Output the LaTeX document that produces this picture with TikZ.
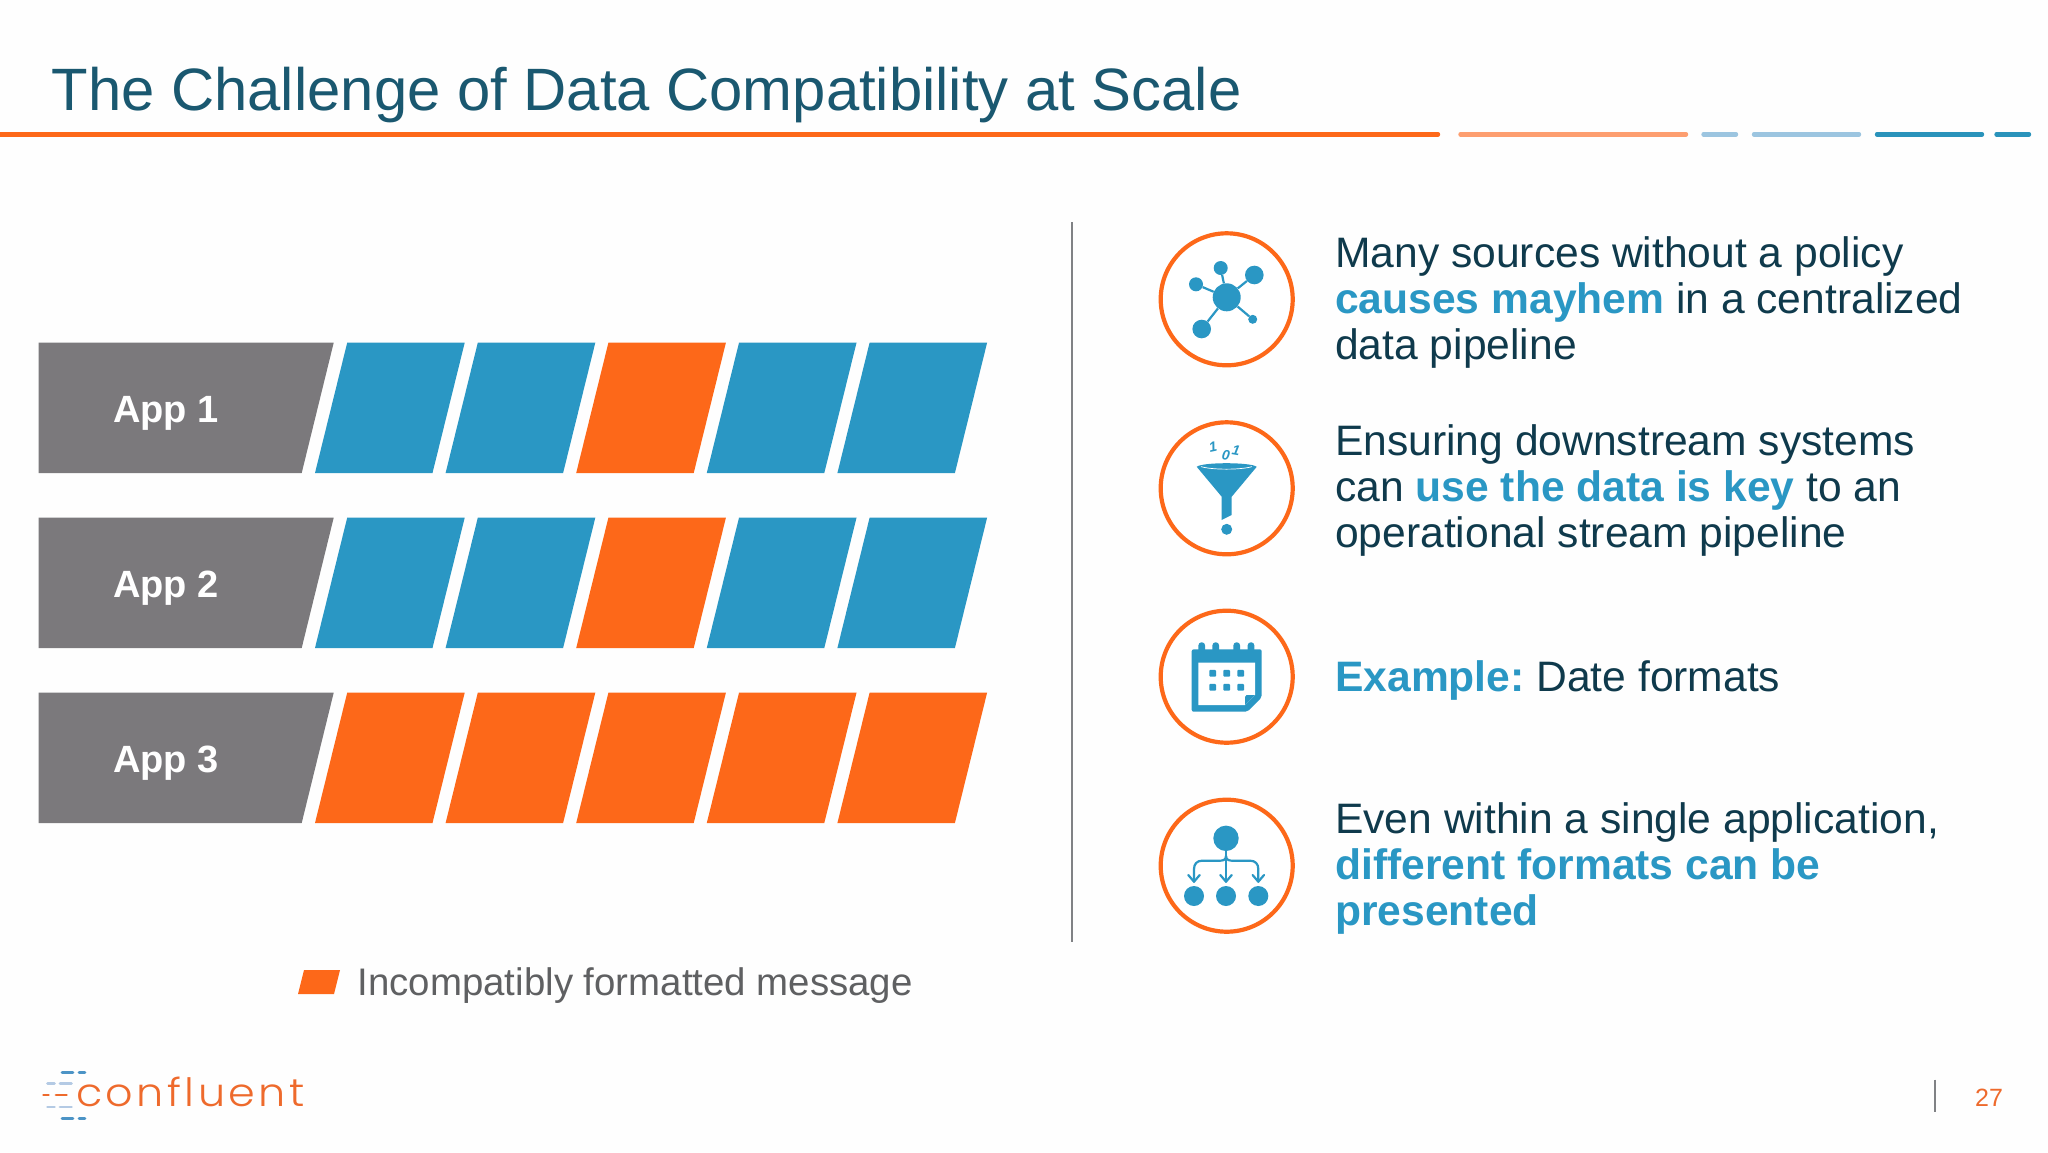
\documentclass[tikz,border=0pt]{standalone}
\usepackage{fontspec}
\setmainfont{Liberation Sans}
\newfontfamily\logofont{Poppins}[UprightFont=* Light,LetterSpace=8]
\definecolor{bgC}{HTML}{FEFEFE}
\definecolor{titleC}{HTML}{1A5870}
\definecolor{bodyC}{HTML}{0F3A4C}
\definecolor{hiC}{HTML}{2A97C4}
\definecolor{iconC}{HTML}{2A97C4}
\definecolor{orangeC}{HTML}{FD6819}
\definecolor{ltOrange}{HTML}{FD9E70}
\definecolor{ltBlue}{HTML}{9CC5E0}
\definecolor{tealC}{HTML}{2A93BB}
\definecolor{grayC}{HTML}{7B797C}
\definecolor{legendC}{HTML}{5F6062}
\definecolor{ruleC}{HTML}{808285}
\definecolor{logoBlue}{HTML}{4C94C6}
\definecolor{logoLight}{HTML}{B4CAE4}
\definecolor{logoOrange}{HTML}{EE6A2C}
\tikzset{
  rulebar/.style={line width=4.4pt,line cap=round},
  iconring/.style={circle,draw=orangeC,line width=4.2pt,minimum size=132pt,inner sep=0pt,fill=white},
  bodytext/.style={anchor=west,inner sep=0pt,align=left,text=bodyC,font=\fontsize{42.6}{46}\selectfont},
  applabel/.style={anchor=base,text=white,inner sep=0pt,font=\bfseries\fontsize{38}{38}\selectfont},
  logodash/.style={line width=2.8pt,line cap=round},
  dot/.style={circle,fill=iconC,inner sep=0pt,minimum size=#1},
  bitlabel/.style={text=iconC,inner sep=0pt,font=\itshape\bfseries\fontsize{14}{14}\selectfont},
  iconline/.style={draw=iconC,line width=2.2pt},
  hierline/.style={draw=iconC,line width=2.2pt,line join=round,line cap=round},
}
\newcommand{\hi}[1]{\textcolor{hiC}{\textbf{#1}}}
\newcommand{\cell}[3]{\fill[#3] (#1+32.2,#2) -- (#1+149.7,#2) -- (#1+117.5,#2+130.3) -- (#1,#2+130.3) -- cycle;}
\begin{document}
\begin{tikzpicture}[x=1pt,y=-1pt]
\useasboundingbox (0,0) rectangle (2048,1152);
\fill[bgC] (0,0) rectangle (2048,1152);
% title
\node[anchor=base west,inner sep=0pt,text=titleC,font=\fontsize{59.8}{60}\selectfont] (title) at (51.5,110) {The Challenge of Data Compatibility at Scale};
\draw[rulebar,orangeC] (0,134.3) -- (1438,134.3);
\draw[rulebar,ltOrange] (1460.5,134.3) -- (1686,134.3);
\draw[rulebar,ltBlue] (1703.5,134.3) -- (1736,134.3);
\draw[rulebar,ltBlue] (1754,134.3) -- (1859,134.3);
\draw[rulebar,tealC] (1877,134.3) -- (1982,134.3);
\draw[rulebar,tealC] (1996.5,134.3) -- (2029,134.3);
% rows
\foreach \row/\yy/\cA/\cB/\cC/\cD/\cE in {1/342.7/hiC/hiC/orangeC/hiC/hiC,2/517.7/hiC/hiC/orangeC/hiC/hiC,3/692.7/orangeC/orangeC/orangeC/orangeC/orangeC}{
  \fill[grayC] (38.7,\yy) -- (333.7,\yy) -- (301.7,\yy+130.3) -- (38.7,\yy+130.3) -- cycle;
  \node[applabel] (app\row) at (166,\yy+80) {App \row};
  \cell{315}{\yy}{\cA}
  \cell{445.6}{\yy}{\cB}
  \cell{576.2}{\yy}{\cC}
  \cell{706.8}{\yy}{\cD}
  \cell{837.4}{\yy}{\cE}
}
% divider
\coordinate (divTop) at (1072.3,222);
\coordinate (divBot) at (1072.3,942);
\draw[ruleC,line width=2pt] (divTop) -- (divBot);
% legend
\fill[orangeC] (304,970) -- (340,970) -- (334,994) -- (298,994) -- cycle;
\node[anchor=west,inner sep=0pt,text=legendC,font=\fontsize{38.4}{40}\selectfont] (legend) at (357.5,986) {Incompatibly formatted message};
% rings
\node[iconring] (ring1) at (1226.7,299.3) {};
\node[iconring] (ring2) at (1226.7,488.3) {};
\node[iconring] (ring3) at (1226.7,676.7) {};
\node[iconring] (ring4) at (1226.7,865.7) {};
% body text
\node[bodytext] (t1) at (1335,302.6) {Many sources without a policy\\\hi{causes mayhem} in a centralized\\data pipeline};
\node[bodytext] (t2) at (1335,490.6) {Ensuring downstream systems\\can \hi{use the data is key} to an\\operational stream pipeline};
\node[bodytext] (t3) at (1335,680) {\hi{Example:}\kern-4pt{} Date formats};
\node[bodytext] (t4) at (1335,868.6) {Even within a single application,\\\hi{different formats can be}\\\hi{presented}};
% network icon
\node[dot=28pt] (hub) at (1226.7,297.3) {};
\node[dot=14pt] (n1) at (1220.7,268) {};
\node[dot=18.6pt] (n2) at (1254.3,275) {};
\node[dot=14pt] (n3) at (1196,284.3) {};
\node[dot=18.6pt] (n4) at (1201.7,329) {};
\node[dot=9pt] (n5) at (1252.7,319.3) {};
\foreach \n in {n1,n2,n3,n4,n5} \draw[iconline] (hub) -- (\n);
% funnel icon
\fill[iconC] (1196.7,466.8) .. controls (1202,462) and (1251,462) .. (1256.7,466.8)
  -- (1231.7,496.7) -- (1231.7,515) -- (1221.7,520) -- (1221.7,496.7) -- cycle;
\draw[white,line width=0.7pt] (1201,466.6) .. controls (1212,470) and (1241,470) .. (1252,466.6);
\node[dot=11pt] (fdot) at (1226.7,529.3) {};
\node[bitlabel,rotate=12] (b1) at (1213,447) {1};
\node[bitlabel,rotate=-8] (b2) at (1226,455.7) {0};
\node[bitlabel,rotate=-10] (b3) at (1236,450) {1};
% calendar icon
\foreach \xx in {1201.7,1215.7,1236.7,1251}
  \fill[iconC,rounded corners=3pt] (\xx-3.3,642.3) rectangle (\xx+3.3,655);
\fill[iconC,rounded corners=2pt] (1191.7,649.3) -- (1261.7,649.3) -- (1261.7,697.3) -- (1247.3,711.7) -- (1191.7,711.7) -- cycle;
\fill[white] (1198.3,662.7) -- (1255,662.7) -- (1255,695) -- (1245,705) -- (1198.3,705) -- cycle;
\fill[iconC] (1245,705) -- (1245,697) -- (1246.5,695) -- (1255,695) -- cycle;
\foreach \xx in {1212.7,1226.7,1240.7} \foreach \yy in {673.3,687.3}
  \fill[iconC,rounded corners=1pt] (\xx-3.4,\yy-3.4) rectangle (\xx+3.4,\yy+3.4);
% hierarchy icon
\node[dot=25.4pt] (root) at (1226,838.3) {};
\node[dot=20pt] (kidA) at (1194,896) {};
\node[dot=20pt] (kidB) at (1226,896) {};
\node[dot=20pt] (kidC) at (1258.3,896) {};
\coordinate (tipA) at (1194,881.7);
\coordinate (tipB) at (1226,881.7);
\coordinate (tipC) at (1258.3,881.7);
\draw[hierline] (root) -- (tipB);
\draw[hierline] (1226,856) .. controls (1226,860.7) and (1222,860.7) .. (1218,860.7) -- (1202,860.7) .. controls (1197,860.7) and (1194,864) .. (1194,869) -- (tipA);
\draw[hierline] (1226,856) .. controls (1226,860.7) and (1230,860.7) .. (1234,860.7) -- (1250.3,860.7) .. controls (1255.3,860.7) and (1258.3,864) .. (1258.3,869) -- (tipC);
\foreach \t in {tipA,tipB,tipC}
  \draw[hierline] ([shift={(-5.7,-6.7)}]\t) -- (\t) -- ([shift={(5.7,-6.7)}]\t);
% footer
\coordinate (barTop) at (1935,1079.5);
\coordinate (barBot) at (1935,1111.5);
\draw[ruleC,line width=2pt] (barTop) -- (barBot);
\node[anchor=base west,inner sep=0pt,text=logoOrange,font=\fontsize{25}{25}\selectfont] (page) at (1975,1106.7) {27};
% logo
\node[anchor=base west,inner sep=0pt,text=logoOrange,font=\logofont\fontsize{39}{39}\selectfont] (logo) at (76,1106) {\scalebox{1.1}[1]{confluent}};
\foreach \yy in {1072.3,1118.7} {
  \draw[logodash,logoBlue] (62,\yy) -- (73,\yy);
  \draw[logodash,logoBlue] (79,\yy) -- (85,\yy);
}
\foreach \yy in {1083.7,1107} {
  \draw[logodash,logoLight] (47.5,\yy) -- (54.5,\yy);
  \draw[logodash,logoLight] (60,\yy) -- (71.5,\yy);
}
\draw[logodash,logoOrange] (43.5,1095) -- (48.5,1095);
\draw[logodash,logoOrange] (56,1095) -- (66.5,1095);
\end{tikzpicture}
\end{document}
